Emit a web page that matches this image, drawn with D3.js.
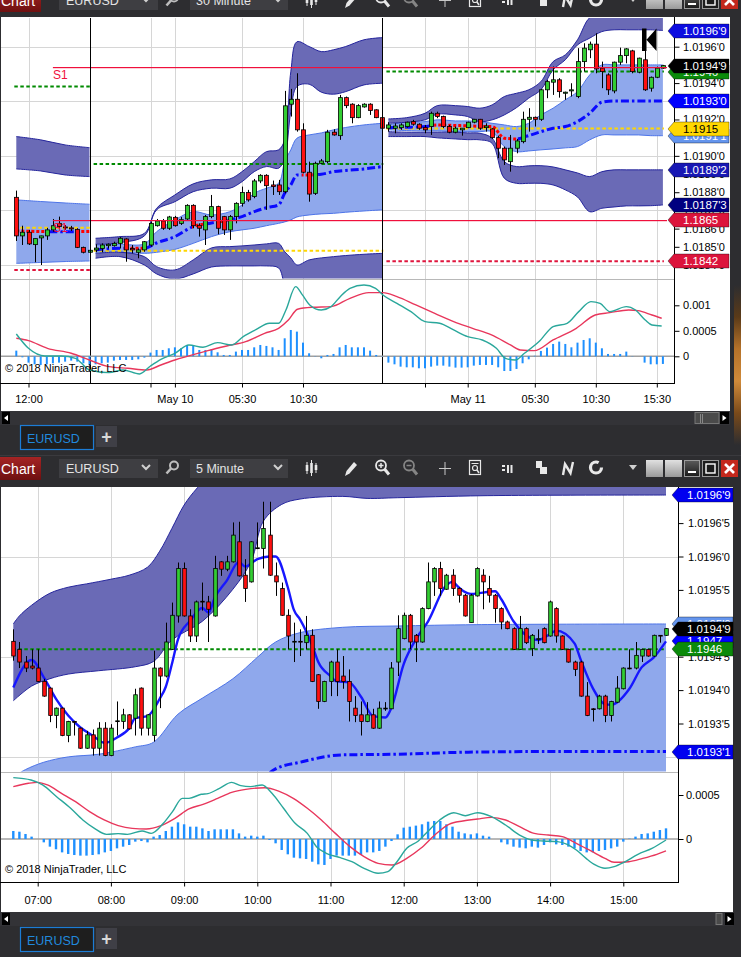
<!DOCTYPE html>
<html><head><meta charset="utf-8">
<script src="https://cdn.jsdelivr.net/npm/d3@7/dist/d3.min.js"></script>
<style>html,body{margin:0;padding:0;background:#2d2d30;overflow:hidden}svg{display:block}</style>
</head><body>
<svg id="c" width="741" height="957"></svg>
<script>
// ================= DATA : top chart (EURUSD 30 Minute) =================
// candles: [open, close, high, low]
const topCandles = [
[1.18772,1.18560,1.18809,1.18532],[1.18560,1.18580,1.18616,1.18510],[1.18580,1.18516,1.18593,1.18510],[1.18512,1.18545,1.18545,1.18415],
[1.18549,1.18560,1.18561,1.18400],[1.18560,1.18593,1.18604,1.18538],[1.18593,1.18616,1.18653,1.18583],[1.18629,1.18611,1.18666,1.18602],
[1.18609,1.18604,1.18620,1.18593],[1.18604,1.18598,1.18615,1.18587],[1.18596,1.18497,1.18602,1.18493],[1.18497,1.18470,1.18501,1.18464],
[1.18470,1.18481,1.18484,1.18466],[1.18483,1.18493,1.18514,1.18470],[1.18491,1.18510,1.18519,1.18470],[1.18506,1.18514,1.18519,1.18491],
[1.18506,1.18519,1.18528,1.18501],[1.18519,1.18547,1.18553,1.18491],[1.18543,1.18483,1.18547,1.18418],[1.18491,1.18483,1.18510,1.18464],
[1.18470,1.18483,1.18491,1.18437],[1.18483,1.18528,1.18532,1.18473],[1.18510,1.18629,1.18638,1.18501],[1.18616,1.18642,1.18653,1.18611],
[1.18642,1.18602,1.18653,1.18593],[1.18602,1.18664,1.18670,1.18593],[1.18662,1.18616,1.18670,1.18611],[1.18629,1.18649,1.18664,1.18620],
[1.18653,1.18728,1.18734,1.18648],[1.18728,1.18616,1.18734,1.18602],[1.18618,1.18602,1.18629,1.18556],[1.18593,1.18666,1.18675,1.18510],
[1.18666,1.18721,1.18785,1.18657],[1.18721,1.18602,1.18726,1.18569],[1.18666,1.18593,1.18670,1.18565],[1.18593,1.18666,1.18675,1.18538],
[1.18666,1.18739,1.18745,1.18629],[1.18739,1.18798,1.18831,1.18721],[1.18798,1.18758,1.18813,1.18748],[1.18776,1.18862,1.18873,1.18767],
[1.18862,1.18893,1.18899,1.18850],[1.18893,1.18836,1.18899,1.18703],[1.18840,1.18831,1.18864,1.18785],[1.18840,1.18803,1.18868,1.18785],
[1.18803,1.19275,1.19357,1.18794],[1.19284,1.19311,1.19368,1.19216],[1.19311,1.19143,1.19454,1.19133],[1.19143,1.18910,1.19179,1.18904],
[1.18910,1.18790,1.18968,1.18748],[1.18794,1.18959,1.18968,1.18785],[1.18959,1.18972,1.18983,1.18954],[1.18968,1.19130,1.19143,1.18959],
[1.19130,1.19115,1.19146,1.19111],[1.19111,1.19320,1.19335,1.19088],[1.19320,1.19276,1.19326,1.19262],[1.19284,1.19210,1.19289,1.19179],
[1.19210,1.19276,1.19284,1.19207],[1.19269,1.19284,1.19289,1.19265],[1.19284,1.19249,1.19289,1.19225],[1.19253,1.19210,1.19256,1.19207],
[1.19210,1.19152,1.19216,1.19143],[1.19152,1.19170,1.19185,1.19133],[1.19152,1.19164,1.19179,1.19124],[1.19155,1.19170,1.19179,1.19143],
[1.19161,1.19185,1.19188,1.19155],[1.19188,1.19174,1.19198,1.19166],[1.19174,1.19152,1.19179,1.19143],[1.19155,1.19143,1.19170,1.19124],
[1.19161,1.19234,1.19243,1.19115],[1.19234,1.19216,1.19243,1.19207],[1.19216,1.19161,1.19221,1.19152],[1.19161,1.19130,1.19170,1.19124],
[1.19130,1.19152,1.19161,1.19124],[1.19143,1.19152,1.19152,1.19111],[1.19155,1.19185,1.19188,1.19152],[1.19185,1.19201,1.19203,1.19179],
[1.19201,1.19152,1.19203,1.19143],[1.19155,1.19164,1.19179,1.19133],[1.19148,1.19100,1.19152,1.19093],[1.19100,1.19042,1.19111,1.18987],
[1.19042,1.18978,1.19051,1.18950],[1.18968,1.19042,1.19115,1.18913],[1.19042,1.19082,1.19093,1.19014],[1.19078,1.19201,1.19243,1.19069],
[1.19201,1.19212,1.19262,1.19133],[1.19212,1.19201,1.19216,1.19161],[1.19201,1.19363,1.19368,1.19192],[1.19363,1.19408,1.19418,1.19317],
[1.19405,1.19418,1.19491,1.19335],[1.19418,1.19353,1.19427,1.19320],[1.19344,1.19350,1.19353,1.19308],[1.19357,1.19363,1.19399,1.19326],
[1.19326,1.19518,1.19592,1.19317],[1.19518,1.19592,1.19619,1.19463],[1.19583,1.19614,1.19628,1.19537],[1.19614,1.19478,1.19674,1.19454],
[1.19482,1.19463,1.19518,1.19372],[1.19445,1.19363,1.19454,1.19335],[1.19357,1.19515,1.19518,1.19344],[1.19515,1.19551,1.19595,1.19500],
[1.19551,1.19588,1.19592,1.19509],[1.19577,1.19463,1.19583,1.19454],[1.19460,1.19537,1.19540,1.19454],[1.19528,1.19363,1.19577,1.19357],
[1.19372,1.19432,1.19436,1.19353],[1.19432,1.19482,1.19491,1.19427],[1.19482,1.19496,1.19500,1.19478]
];
// channel bands, one sub-array per session (bar index knots)
const topBandIdx = [
 [0,4,8,12],
 [13,17,21,23,26,29,32,35,37,39,41,43,44,45,46,48,50,52,54,57,60],
 [61,64,67,69,72,74,76,78,80,82,84,86,88,90,92,94,96,98,100,102,104,106]
];
const topUpperTop = [
 [1.19106,1.19088,1.19060,1.19045],
 [1.18547,1.18556,1.18574,1.18712,1.18785,1.18846,1.18868,1.18873,1.18913,1.18968,1.19023,1.19033,1.19088,1.19462,1.19627,1.19601,1.19573,1.19583,1.19601,1.19638,1.19650],
 [1.19203,1.19210,1.19234,1.19276,1.19276,1.19271,1.19262,1.19280,1.19326,1.19344,1.19363,1.19408,1.19518,1.19555,1.19638,1.19759,1.19775,1.19775,1.19775,1.19775,1.19775,1.19775]
];
const topUpperBot = [
 [1.18928,1.18917,1.18895,1.18886],
 [1.18514,1.18523,1.18560,1.18703,1.18748,1.18803,1.18822,1.18822,1.18858,1.18913,1.18941,1.18932,1.18989,1.19243,1.19381,1.19394,1.19350,1.19339,1.19353,1.19390,1.19399],
 [1.19179,1.19185,1.19198,1.19229,1.19225,1.19216,1.19188,1.19198,1.19225,1.19265,1.19317,1.19363,1.19473,1.19528,1.19610,1.19647,1.19683,1.19693,1.19693,1.19693,1.19693,1.19689]
];
const topLightTop = [
 [1.18758,1.18749,1.18741,1.18734],
 [1.18510,1.18514,1.18516,1.18583,1.18648,1.18693,1.18675,1.18693,1.18730,1.18794,1.18822,1.18849,1.18968,1.19033,1.19097,1.19115,1.19126,1.19143,1.19156,1.19170,1.19179],
 [1.19170,1.19185,1.19188,1.19198,1.19192,1.19192,1.19188,1.19179,1.19170,1.19161,1.19179,1.19225,1.19262,1.19308,1.19353,1.19445,1.19500,1.19500,1.19500,1.19500,1.19500,1.19500]
];
const topLightBot = [
 [1.18409,1.18414,1.18419,1.18422],
 [1.18470,1.18472,1.18464,1.18470,1.18486,1.18519,1.18556,1.18583,1.18593,1.18602,1.18616,1.18629,1.18637,1.18648,1.18664,1.18675,1.18681,1.18684,1.18690,1.18697,1.18703],
 [1.19143,1.19139,1.19137,1.19137,1.19133,1.19133,1.19133,1.19133,1.19051,1.19023,1.19027,1.19033,1.19038,1.19044,1.19051,1.19088,1.19115,1.19115,1.19115,1.19115,1.19111,1.19111]
];
const topLowerTop = [
 [1.18300,1.18300,1.18300,1.18300],
 [1.18464,1.18470,1.18446,1.18391,1.18373,1.18428,1.18494,1.18501,1.18505,1.18510,1.18516,1.18519,1.18473,1.18439,1.18400,1.18428,1.18439,1.18446,1.18452,1.18459,1.18464],
 [1.19133,1.19130,1.19130,1.19130,1.19130,1.19126,1.19124,1.19097,1.18968,1.18941,1.18945,1.18946,1.18939,1.18923,1.18906,1.18886,1.18913,1.18923,1.18923,1.18923,1.18923,1.18923]
];
const topLowerBot = [
 [1.18250,1.18250,1.18250,1.18250],
 [1.18437,1.18446,1.18400,1.18351,1.18323,1.18351,1.18389,1.18395,1.18395,1.18395,1.18395,1.18384,1.18290,1.18235,1.18208,1.18208,1.18208,1.18208,1.18208,1.18208,1.18208],
 [1.19106,1.19106,1.19106,1.19099,1.19093,1.19089,1.19088,1.19069,1.18877,1.18849,1.18849,1.18849,1.18840,1.18813,1.18774,1.18693,1.18712,1.18719,1.18725,1.18725,1.18726,1.18730]
];
const topCenter = [
 [1.18587,1.18584,1.18583,1.18584],
 [1.18483,1.18492,1.18492,1.18521,1.18556,1.18611,1.18631,1.18648,1.18666,1.18693,1.18715,1.18730,1.18794,1.18840,1.18895,1.18895,1.18899,1.18913,1.18920,1.18928,1.18941],
 [1.19155,1.19157,1.19161,1.19170,1.19167,1.19165,1.19162,1.19161,1.19097,1.19093,1.19111,1.19133,1.19152,1.19161,1.19188,1.19234,1.19295,1.19302,1.19302,1.19302,1.19302,1.19302]
];
// bar-index ranges where the centre line is drawn falling (red)
const topRedRanges = [[-1,4.9],[9.6,12.6],[17.6,21.2],[28.8,30.6],[32.8,34.6],[46.8,48.6],[68.5,82.2]];
// daily pivot levels per session [startBar, endBar]
const topSessions = [[0,12],[13,60],[61,106]];
const topPivotGreen = [1.19381,1.18955,1.19463];
const topPivotYellow = [1.18605,1.18479,1.1915];
const topPivotRed = [1.18373,1.18150,1.1842];
const topS1Vals = [1.19491,1.1865];
const topS1Start = 6;
const topBreaks = [12,60];
// MACD (values in units of 0.0001)
const topMacd = [[0,4.38],[2,1.57],[4.7,0.07],[7.4,0.07],[9.7,-0.39],[12,-2.68],[15.2,-3.2],[17.5,-2.68],[20.2,-3.46],[22,-1.9],[23.7,-0.59],[26,0.59],[28.3,2.22],[30.6,1.76],[33,2.68],[35.3,2.22],[37.2,3.86],[39.2,5.16],[41.5,6.47],[43,6.47],[44.2,9.08],[45.8,13.66],[46.9,12.03],[48.1,10.07],[50,9.08],[51.6,9.74],[53.1,11.7],[54.7,13.33],[57,13.99],[58.9,13.33],[60.1,12.03],[62.4,10.39],[64.7,8.76],[67,6.8],[69.4,6.47],[71.7,5.16],[74,3.86],[76.4,3.2],[78.7,1.57],[80.2,-0.39],[81.8,-0.72],[83.3,0.59],[85.7,2.88],[88,5.82],[90.3,6.47],[92.2,8.76],[94.2,10.72],[95.7,10.39],[97.3,8.76],[100,9.74],[101.5,9.08],[103.1,7.12],[104.2,6.14],[105.8,5.95]];
const topSignal = [[0,3.53],[2,3.07],[5.1,1.57],[9,0.59],[12,-0.72],[15.2,-2.03],[18.3,-2.35],[21.4,-2.68],[23.7,-1.7],[26,-0.72],[28.3,0.07],[31.4,1.11],[34.5,2.03],[37.6,2.88],[40.7,4.51],[43,5.49],[44.6,7.12],[46.1,9.22],[48.5,9.61],[51.6,9.74],[54.7,11.37],[57.8,12.48],[60.1,12.48],[62.4,11.7],[65.5,10.07],[68.6,8.43],[71.7,6.8],[74.8,5.49],[77.9,4.18],[81,2.22],[82.6,1.24],[84.9,1.11],[88,3.2],[91.8,5.49],[94.9,8.1],[97.3,8.56],[100.4,9.08],[101.9,8.95],[104.2,8.1],[105.8,7.45]];
const topHist = [1.11,-0.2,-1.24,-1.57,-1.70,-1.57,-1.37,-1.24,-1.05,-0.85,-1.05,-1.37,-1.70,-1.57,-1.37,-1.24,-0.85,-0.72,-0.72,-0.72,-0.59,-0.26,0.72,1.24,1.24,1.57,1.76,1.57,2.22,2.03,1.24,1.24,1.37,0.78,0.26,0.26,0.92,1.24,1.24,1.76,2.22,2.03,1.76,1.24,3.53,5.16,4.84,2.68,0.59,0.05,-0.39,0.26,0.46,1.76,2.22,1.76,1.76,1.76,1.11,0.26,0.05,-1.24,-1.57,-2.03,-2.16,-2.16,-2.35,-2.35,-2.03,-1.83,-1.83,-2.03,-2.22,-2.22,-2.16,-1.83,-1.70,-1.70,-1.70,-2.16,-2.88,-2.88,-2.48,-1.37,-0.59,0.1,1.05,1.70,2.42,2.88,2.42,1.76,2.68,3.20,3.53,2.68,1.57,0.46,0.46,0.46,0.92,0.05,0,-1.24,-1.57,-1.57,-1.50];
// axes
const topGridVals = [1.1840,1.1870,1.1900,1.1930,1.1960];
const topTickVals = [1.1960,1.1950,1.1940,1.1930,1.1920,1.1910,1.1900,1.1890,1.1880,1.1870,1.1860,1.1850,1.1840];
const topTickText = ["1.0196'0","1.0195'0","1.0194'0","1.0193'0","1.0192'0","1.0191'0","1.0190'0","1.0189'0","1.0188'0","1.0187'0","1.0186'0","1.0185'0","1.0184'0"];
const topXTicks = [2,22,26,37,47,67,74,85,95,105];
const topXLabels = ["12:00","","May 10","05:30","10:30","","May 11","05:30","10:30","15:30"];
const topMacdTicks = [10,5,0];
const topMacdText = ["0.001","0.0005","0"];
// price markers on the right axis
const topMarkerVals = [1.19111,1.1915,1.19463,1.19496,1.19689,1.19302,1.18923,1.1873,1.1865,1.1842];
const topMarkerText = ["1.0191'1","1.1915","1.1946","1.0194'9","1.0196'9","1.0193'0","1.0189'2","1.0187'3","1.1865","1.1842"];

// ================= DATA : bottom chart (EURUSD 5 Minute) =================
const botCandles = [
[1.19473,1.19451,1.19491,1.19444],[1.19461,1.19442,1.19472,1.19433],[1.19442,1.19433,1.19451,1.19427],[1.19436,1.19433,1.19461,1.19431],
[1.19433,1.19413,1.19461,1.19412],[1.19413,1.19391,1.19417,1.19390],[1.19403,1.19362,1.19404,1.19352],[1.19362,1.19373,1.19374,1.19343],
[1.19373,1.19332,1.19374,1.19331],[1.19332,1.19353,1.19354,1.19322],[1.19353,1.19352,1.19354,1.19332],[1.19343,1.19313,1.19344,1.19312],
[1.19313,1.19333,1.19339,1.19312],[1.19333,1.19313,1.19341,1.19302],[1.19313,1.19343,1.19352,1.19302],[1.19343,1.19302,1.19352,1.19301],
[1.19302,1.19343,1.19349,1.19301],[1.19353,1.19354,1.19383,1.19332],[1.19353,1.19363,1.19372,1.19342],[1.19363,1.19342,1.19364,1.19341],
[1.19358,1.19393,1.19402,1.19332],[1.19403,1.19343,1.19404,1.19332],[1.19343,1.19363,1.19364,1.19332],[1.19332,1.19433,1.19459,1.19323],
[1.19433,1.19421,1.19434,1.19373],[1.19421,1.19472,1.19501,1.19419],[1.19461,1.19512,1.19531,1.19460],[1.19511,1.19582,1.19591,1.19501],
[1.19582,1.19511,1.19591,1.19510],[1.19511,1.19481,1.19521,1.19472],[1.19481,1.19532,1.19534,1.19472],[1.19533,1.19532,1.19561,1.19519],
[1.19532,1.19521,1.19541,1.19472],[1.19511,1.19582,1.19601,1.19510],[1.19592,1.19581,1.19593,1.19571],[1.19581,1.19592,1.19601,1.19578],
[1.19592,1.19632,1.19651,1.19591],[1.19622,1.19571,1.19652,1.19570],[1.19572,1.19552,1.19596,1.19532],[1.19562,1.19622,1.19623,1.19561],
[1.19612,1.19613,1.19651,1.19611],[1.19612,1.19642,1.19682,1.19582],[1.19632,1.19572,1.19682,1.19571],[1.19571,1.19562,1.19591,1.19541],
[1.19552,1.19512,1.19561,1.19511],[1.19512,1.19481,1.19521,1.19461],[1.19472,1.19473,1.19501,1.19442],[1.19473,1.19472,1.19491,1.19451],
[1.19471,1.19482,1.19511,1.19461],[1.19482,1.19413,1.19491,1.19412],[1.19423,1.19383,1.19424,1.19372],[1.19383,1.19413,1.19414,1.19382],
[1.19413,1.19442,1.19444,1.19391],[1.19442,1.19413,1.19461,1.19391],[1.19421,1.19413,1.19451,1.19402],[1.19413,1.19383,1.19431,1.19353],
[1.19373,1.19362,1.19391,1.19352],[1.19363,1.19353,1.19383,1.19332],[1.19353,1.19363,1.19382,1.19352],[1.19363,1.19343,1.19372,1.19342],
[1.19343,1.19373,1.19383,1.19342],[1.19372,1.19373,1.19382,1.19369],[1.19372,1.19433,1.19442,1.19372],[1.19442,1.19492,1.19512,1.19421],
[1.19477,1.19512,1.19516,1.19476],[1.19512,1.19472,1.19514,1.19461],[1.19482,1.19472,1.19484,1.19442],[1.19472,1.19522,1.19524,1.19471],
[1.19522,1.19562,1.19591,1.19521],[1.19562,1.19582,1.19584,1.19541],[1.19582,1.19552,1.19592,1.19541],[1.19551,1.19572,1.19574,1.19550],
[1.19572,1.19552,1.19581,1.19541],[1.19552,1.19542,1.19554,1.19531],[1.19542,1.19511,1.19544,1.19510],[1.19501,1.19542,1.19544,1.19501],
[1.19541,1.19582,1.19584,1.19540],[1.19572,1.19562,1.19581,1.19521],[1.19552,1.19542,1.19571,1.19531],[1.19542,1.19522,1.19544,1.19501],
[1.19522,1.19502,1.19524,1.19491],[1.19502,1.19492,1.19504,1.19491],[1.19492,1.19461,1.19494,1.19460],[1.19461,1.19492,1.19511,1.19460],
[1.19492,1.19471,1.19494,1.19469],[1.19462,1.19482,1.19484,1.19451],[1.19476,1.19477,1.19491,1.19469],[1.19492,1.19471,1.19494,1.19470],
[1.19481,1.19532,1.19534,1.19480],[1.19522,1.19481,1.19524,1.19471],[1.19481,1.19461,1.19482,1.19460],[1.19461,1.19442,1.19462,1.19441],
[1.19442,1.19431,1.19444,1.19421],[1.19442,1.19391,1.19444,1.19390],[1.19391,1.19362,1.19412,1.19361],[1.19372,1.19371,1.19373,1.19353],
[1.19372,1.19391,1.19393,1.19371],[1.19391,1.19362,1.19393,1.19352],[1.19362,1.19383,1.19384,1.19353],[1.19382,1.19403,1.19421,1.19381],
[1.19402,1.19433,1.19434,1.19401],[1.19433,1.19432,1.19461,1.19431],[1.19433,1.19452,1.19472,1.19431],[1.19451,1.19461,1.19462,1.19442],
[1.19461,1.19451,1.19462,1.19450],[1.19451,1.19482,1.19483,1.19450],[1.19482,1.19481,1.19482,1.19471],[1.19482,1.19492,1.19493,1.19481]
];
const botUpperTopIdx = [0,1,3,6,9,12,16,19,22,24,26,28,30,32,40,107];
const botUpperTop = [1.19499,1.19511,1.19527,1.19545,1.19554,1.19559,1.19566,1.19572,1.19584,1.19608,1.19642,1.19677,1.19701,1.19719,1.19731,1.19731];
const botUpperBotIdx = [0,3,6,9,14,20,23,26,31,36,39,41,44,47,54,58,63,77,107];
const botUpperBot = [1.19384,1.19406,1.19417,1.19424,1.19429,1.19435,1.19443,1.19475,1.19503,1.19551,1.19593,1.19653,1.19678,1.19686,1.19690,1.19687,1.19688,1.19691,1.19692];
const botLightTopIdx = [0,2,5,9,14,20,23,27,31,36,40,43,47,54,63,76,107];
const botLightTop = [1.19270,1.19281,1.19292,1.19300,1.19304,1.19315,1.19322,1.19364,1.19388,1.19417,1.19449,1.19472,1.19486,1.19494,1.19496,1.19498,1.19499];
const botLightBotIdx = [0,107];
const botLightBot = [1.1924,1.1924];
const botCenter = [[40,1.19260],[43,1.19282],[47,1.19292],[54,1.19303],[63,1.19304],[74,1.19307],[87,1.19308],[107,1.19308]];
const botEma = [[0,1.19404],[3,1.19445],[5,1.19419],[7,1.19387],[9,1.19362],[11,1.19344],[13,1.19332],[15,1.19321],[17,1.19329],[19,1.19343],[20,1.19358],[22,1.19361],[24,1.19387],[25,1.19405],[26,1.19439],[27,1.19476],[29,1.19504],[31,1.19523],[32,1.19516],[33,1.19538],[35,1.19564],[37,1.19592],[38,1.19585],[40,1.19596],[42,1.19600],[43,1.19600],[45,1.19554],[46,1.19520],[47,1.19506],[49,1.19467],[50,1.19442],[52,1.19421],[53,1.19413],[55,1.19412],[57,1.19390],[59,1.19361],[61,1.19359],[62,1.19374],[64,1.19439],[66,1.19476],[68,1.19503],[71,1.19557],[72,1.19562],[73,1.19554],[74,1.19547],[75,1.19544],[79,1.19548],[80,1.19536],[82,1.19503],[85,1.19477],[86,1.19475],[88,1.19484],[89,1.19489],[92,1.19470],[93,1.19446],[95,1.19403],[97,1.19379],[98,1.19378],[101,1.19402],[103,1.19434],[105,1.19449],[107,1.19473]];
const botPivotGreen = 1.19461;
const botSpan = [0,107];
const botMacd = [[0,6.97],[2.9,6.7],[4.8,6.14],[7.1,4.81],[9.4,3.49],[11.4,2.16],[13.3,1.21],[15.3,0.53],[17.2,0.61],[18.7,0.53],[21.1,0.91],[22.6,0.64],[24.6,1.78],[26.1,3.11],[27.7,4.62],[28.8,4.62],[30.8,5.08],[31.9,5.15],[33.8,5.76],[35.8,6.44],[37.3,6.06],[38.9,5.95],[40.8,6.14],[42.4,5.19],[44.3,3.49],[46.2,1.78],[48.2,0.64],[49.7,-0.87],[51.3,-1.63],[53.6,-2.12],[55.5,-2.58],[57.5,-3.33],[59.8,-3.9],[61.4,-3.71],[62.9,-2.58],[64.5,-1.06],[66.4,-0.23],[67.9,0.83],[69.9,2.16],[72.2,2.99],[74.1,2.65],[76.1,2.99],[78.4,2.54],[80.7,1.59],[83,0.45],[85,-0.11],[86.9,-0.23],[89.2,-0.3],[90.8,-0.61],[92.3,-1.25],[93.9,-2.2],[95.4,-2.95],[97,-3.33],[98.5,-3.14],[100.1,-2.65],[102.4,-1.74],[104.7,-1.06],[107,-0.11]];
const botSignal = [[0,5.95],[2.5,6.33],[4,6.44],[5.6,6.14],[7.9,5.19],[10.2,4.24],[12.5,3.11],[14.9,2.16],[17.2,1.52],[19.5,1.21],[21.8,1.14],[24.2,1.52],[26.5,2.35],[28.8,3.41],[31.1,3.94],[33.5,4.62],[35.8,5.3],[38.1,5.64],[41.2,5.83],[43.5,5.45],[45.9,4.62],[48.2,3.49],[50.5,2.16],[52.8,0.64],[55.2,-0.87],[57.5,-2.01],[59.8,-2.77],[62.1,-2.95],[64.5,-2.2],[66.8,-1.06],[69.1,0.45],[71.4,1.67],[73.7,2.05],[76.1,2.27],[78.4,2.46],[80.7,2.16],[83,1.4],[85.4,0.64],[87.7,0.45],[90,0.27],[92.3,-0.49],[94.7,-1.36],[97,-2.2],[98.5,-2.65],[100.9,-2.58],[103.2,-2.2],[105.5,-1.74],[107,-1.36]];
const botHist = [0.91,0.83,0.57,0.27,0,-0.38,-0.87,-1.17,-1.52,-1.70,-1.82,-1.89,-1.89,-1.82,-1.74,-1.52,-1.36,-1.06,-0.87,-0.68,-0.30,-0.23,-0.38,0.27,0.45,0.91,1.40,1.89,1.67,1.40,1.40,1.21,0.91,1.10,1.10,1.10,1.10,0.64,0.27,0.38,0.27,0.38,-0.11,-0.49,-1.25,-1.74,-2.12,-2.20,-2.27,-2.58,-2.88,-2.95,-2.27,-1.89,-1.89,-1.89,-1.89,-1.82,-1.52,-1.52,-1.36,-0.87,-0.23,0.53,1.29,1.40,1.52,1.67,1.97,2.05,2.05,1.67,1.40,0.83,0.64,0.53,0.64,0.38,0.27,0,-0.38,-0.61,-0.87,-0.98,-1.06,-0.87,-0.98,-0.68,-0.38,-0.61,-0.68,-0.87,-1.06,-1.36,-1.52,-1.52,-1.36,-1.25,-1.06,-0.87,-0.30,0.04,0.27,0.57,0.64,0.83,1.02,1.21];
const botGridVals = [1.1930,1.1945,1.1960];
const botTickVals = [1.1965,1.1960,1.1955,1.1950,1.1945,1.1940,1.1935];
const botTickText = ["1.0196'5","1.0196'0","1.0195'5","1.0195'0","1.0194'5","1.0194'0","1.0193'5"];
const botXTicks = [4,16,28,40,52,64,76,88,100];
const botXLabels = ["07:00","08:00","09:00","10:00","11:00","12:00","13:00","14:00","15:00"];
const botMacdTicks = [5,0];
const botMacdText = ["0.0005","0"];
const botMarkerVals = [1.19499,1.19473,1.19492,1.19461,1.19692,1.19308];
const botMarkerText = ["1.0195'0","1.1947","1.0194'9","1.1946","1.0196'9","1.0193'1"];

// ================= STYLE =================
const W = 741, H = 957;
const FONT = "'Liberation Sans', Arial, Helvetica, sans-serif";
const COL = {
  up:'#32cd32', down:'#ff1010', grid:'#d6d6d6',
  outer:'#6a6ab6', outerEdge:'#25259c', light:'#8fa8ec', lightEdge:'#4d74e8',
  center:'#0a0aff', centerDown:'#ff0000', ema:'#1717ff',
  green:'#008a00', yellow:'#ffd700', crimson:'#e0143c', s1:'#f0103c',
  macd:'#2aa79b', signal:'#e8375c', hist:'#1e90ff', zero:'#a0a0a0'
};
const topMarkerFill = ['#6495ed','#ffd700','#0a8a0a','#000000','#0c0ce0','#0000ff','#1818b4','#000080','#dc143c','#dc143c'];
const topMarkerInk  = ['#fff','#000','#fff','#fff','#fff','#fff','#fff','#fff','#fff','#fff'];
const botMarkerFill = ['#6495ed','#0000ff','#000000','#0a8a0a','#0000f0','#0000f0'];
const botMarkerInk  = ['#fff','#fff','#fff','#fff','#fff','#fff'];

const svg = d3.select('#c');
const defs = svg.append('defs');
let cid = 0;
function clipOf(rects){
  const id = 'clip' + (cid++);
  const cp = defs.append('clipPath').attr('id', id);
  rects.forEach(r => cp.append('rect').attr('x', r[0]).attr('y', r[1]).attr('width', Math.max(0, r[2])).attr('height', r[3]));
  return 'url(#' + id + ')';
}
function grad(id, stops, vertical){
  const g = defs.append('linearGradient').attr('id', id).attr('x1',0).attr('y1',0).attr('x2', vertical?0:1).attr('y2', vertical?1:0);
  stops.forEach((c,i)=>g.append('stop').attr('offset', (i/(stops.length-1))).attr('stop-color', c));
}
grad('gChart',['#a52424','#6e1010'],true);
grad('gGray',['#e0e0e0','#9a9a9a'],true);
grad('gDark',['#5a5a5a','#1a1a1a'],true);
grad('gOrange',['#2d2d30','#5a3a18','#b5722a','#d08a3a','#7a4a1a','#2d2d30'],true);

function text(g,x,y,s,o){ o=o||{};
  return g.append('text').attr('x',x).attr('y',y).text(s)
    .attr('font-family',o.family||FONT).attr('font-size',o.size||11)
    .attr('fill',o.fill||'#000').attr('text-anchor',o.anchor||'start')
    .attr('font-weight',o.weight||'normal');
}
function line(g,x1,y1,x2,y2,stroke,w){ return g.append('line').attr('x1',x1).attr('y1',y1).attr('x2',x2).attr('y2',y2).attr('stroke',stroke).attr('stroke-width',w||1); }

// ---------- toolbar ----------
function chevron(g,cx,cy){ g.append('path').attr('d',`M${cx-4},${cy-2} L${cx},${cy+2} L${cx+4},${cy-2}`).attr('fill','none').attr('stroke','#d0d0d0').attr('stroke-width',2); }
function drawToolbar(y0, interval){
  const g = svg.append('g').attr('transform','translate(0,'+y0+')');
  const IC = '#e8e8e8';
  g.append('rect').attr('width',W).attr('height',23).attr('fill','#2d2d30');
  g.append('rect').attr('x',0).attr('y',0).attr('width',41).attr('height',23).attr('fill','url(#gChart)');
  text(g,1,17,'Chart',{size:14,fill:'#fff'});
  g.append('rect').attr('x',59).attr('y',2).attr('width',99).attr('height',19).attr('fill','#3e3e42');
  text(g,66,16,'EURUSD',{size:12.5,fill:'#e4e4e4'});
  chevron(g,146,10);
  g.append('circle').attr('cx',174).attr('cy',8.5).attr('r',4).attr('fill','none').attr('stroke','#bdbdbd').attr('stroke-width',2);
  line(g,171,11.5,166.5,16.5,'#bdbdbd',2.6);
  g.append('rect').attr('x',190).attr('y',2).attr('width',98).attr('height',19).attr('fill','#3e3e42');
  text(g,196,16,interval,{size:12.5,fill:'#e4e4e4'});
  chevron(g,278,10);
  [[307,5,17,8,14],[311.5,3,19,6,16],[316,6,16,8,13]].forEach(c=>{ line(g,c[0],c[1],c[0],c[2],IC,1); g.append('rect').attr('x',c[0]-1.3).attr('y',c[3]).attr('width',2.6).attr('height',c[4]-c[3]).attr('fill',IC); });
  g.append('path').attr('d','M345,19 L346.5,14 L354,5 L357,8 L349.5,16.5 Z').attr('fill',IC);
  g.append('circle').attr('cx',381).attr('cy',8.5).attr('r',5).attr('fill','none').attr('stroke',IC).attr('stroke-width',1.8);
  line(g,384.5,12,389,17.5,IC,3); line(g,378.5,8.5,383.5,8.5,IC,1.5); line(g,381,6,381,11,IC,1.5);
  g.append('circle').attr('cx',409).attr('cy',8.5).attr('r',5).attr('fill','none').attr('stroke','#858585').attr('stroke-width',1.8);
  line(g,412.5,12,417,17.5,'#858585',3); line(g,406.5,8.5,411.5,8.5,'#858585',1.5);
  line(g,439,11.5,451,11.5,'#c8c8c8',1); line(g,445,5,445,18,'#c8c8c8',1);
  g.append('rect').attr('x',469.5).attr('y',3.5).attr('width',11).attr('height',14).attr('fill','none').attr('stroke',IC).attr('stroke-width',1.2);
  line(g,471.5,6.5,478.5,6.5,IC,1); g.append('circle').attr('cx',475).attr('cy',11).attr('r',2.5).attr('fill','none').attr('stroke',IC).attr('stroke-width',1.2); line(g,477,13,479,16,IC,1.5);
  g.append('rect').attr('x',502).attr('y',8).attr('width',3).attr('height',2).attr('fill',IC);
  g.append('rect').attr('x',502).attr('y',12).attr('width',3).attr('height',2).attr('fill',IC);
  g.append('rect').attr('x',507).attr('y',8).attr('width',2).attr('height',8).attr('fill',IC);
  g.append('rect').attr('x',510.5).attr('y',8).attr('width',2).attr('height',8).attr('fill',IC);
  g.append('rect').attr('x',536).attr('y',4).attr('width',6).attr('height',7).attr('fill',IC);
  g.append('rect').attr('x',540).attr('y',10).attr('width',7).attr('height',7).attr('fill',IC);
  g.append('path').attr('d','M563,18 L565,7 L570.5,16 L573,5').attr('fill','none').attr('stroke',IC).attr('stroke-width',2.4);
  g.append('circle').attr('cx',596).attr('cy',10.5).attr('r',5.5).attr('fill','none').attr('stroke',IC).attr('stroke-width',3.2).attr('stroke-dasharray','28,6');
  g.append('path').attr('d','M629,8 L637,8 L633,13 Z').attr('fill','#d0d0d0');
  g.append('rect').attr('x',646).attr('y',3).attr('width',17).attr('height',17).attr('fill','url(#gGray)');
  g.append('rect').attr('x',665).attr('y',3).attr('width',17).attr('height',17).attr('fill','url(#gGray)');
  g.append('rect').attr('x',684.5).attr('y',3.5).attr('width',15).attr('height',16).attr('fill','url(#gDark)').attr('stroke','#9a9a9a');
  line(g,688,15,696,15,'#fff',2);
  g.append('rect').attr('x',702.5).attr('y',3.5).attr('width',16).attr('height',16).attr('fill','#1c1c1c').attr('stroke','#9a9a9a');
  g.append('rect').attr('x',706).attr('y',7).attr('width',9).attr('height',9).attr('fill','none').attr('stroke','#fff').attr('stroke-width',1.4);
  g.append('rect').attr('x',721).attr('y',3).attr('width',17).attr('height',17).attr('fill','#c4281c');
  line(g,725,7,734,16,'#fff',2.6); line(g,734,7,725,16,'#fff',2.6);
}
function drawTabs(yScroll, thumbX, thumbW, rArrowX, yTab, whiteRight){
  svg.append('rect').attr('x',0).attr('y',yScroll).attr('width',whiteRight).attr('height',14).attr('fill','#333337');
  svg.append('rect').attr('x',2).attr('y',yScroll+1).attr('width',8).attr('height',12).attr('fill','#000');
  svg.append('path').attr('d',`M4,${yScroll+7} L8,${yScroll+4} L8,${yScroll+10} Z`).attr('fill','#fff');
  svg.append('rect').attr('x',thumbX).attr('y',yScroll+1.5).attr('width',thumbW).attr('height',11).attr('fill','#4a4a4a').attr('stroke','#777');
  if (thumbW > 10){ line(svg,thumbX+5.5,yScroll+3,thumbX+5.5,yScroll+12,'#888',1); line(svg,thumbX+7.5,yScroll+3,thumbX+7.5,yScroll+12,'#888',1); }
  svg.append('rect').attr('x',rArrowX).attr('y',yScroll+1).attr('width',9).attr('height',12).attr('fill','#000');
  svg.append('path').attr('d',`M${rArrowX+6.5},${yScroll+7} L${rArrowX+2.5},${yScroll+4} L${rArrowX+2.5},${yScroll+10} Z`).attr('fill','#fff');
  svg.append('rect').attr('x',20.5).attr('y',yTab+0.5).attr('width',73).attr('height',24).attr('fill','#1e1e1e').attr('stroke','#1c7cd5').attr('stroke-width',1.2);
  text(svg,27,yTab+18,'EURUSD',{size:12.5,fill:'#2189dc'});
  svg.append('rect').attr('x',96).attr('y',yTab+1).attr('width',21).attr('height',21).attr('fill','#3f3f46');
  text(svg,106.5,yTab+17.5,'+',{size:18,fill:'#d8d8d8',anchor:'middle',weight:'bold'});
}

// ---------- chart helpers ----------
function drawBand(g, x, y, idxHi, hi, idxLo, lo, fill, edge, sw){
  const ph = idxHi.map((d,k)=>[x(d), y(hi[k])]);
  const pl = idxLo.map((d,k)=>[x(d), y(lo[k])]);
  const lg = d3.line().curve(d3.curveCatmullRom.alpha(0.5));
  const a = lg(ph), b = lg(pl.slice().reverse());
  g.append('path').attr('d', a + 'L' + b.slice(1) + 'Z').attr('fill', fill);
  g.append('path').attr('d', a).attr('fill','none').attr('stroke',edge).attr('stroke-width',sw);
  g.append('path').attr('d', lg(pl)).attr('fill','none').attr('stroke',edge).attr('stroke-width',sw);
}
function drawPairs(g, x, y, pts, color, w, dash){
  g.append('path').attr('d', d3.line().x(d=>x(d[0])).y(d=>y(d[1])).curve(d3.curveMonotoneX)(pts))
    .attr('fill','none').attr('stroke',color).attr('stroke-width',w).attr('stroke-dasharray',dash||null).attr('stroke-linejoin','round');
}
function drawCandles(g, x, y, data, bw){
  const c = g.selectAll(null).data(data).join('g');
  c.append('line').attr('x1',(d,i)=>Math.round(x(i))+0.5).attr('x2',(d,i)=>Math.round(x(i))+0.5)
    .attr('y1',d=>y(d[2])).attr('y2',d=>y(d[3])).attr('stroke','#000').attr('stroke-width',1);
  c.append('rect').attr('x',(d,i)=>Math.round(x(i))+0.5-bw/2).attr('y',d=>y(Math.max(d[0],d[1])))
    .attr('width',bw).attr('height',d=>Math.max(0.8, Math.abs(y(d[0])-y(d[1]))))
    .attr('fill',d=>d[1]>=d[0]?COL.up:COL.down).attr('stroke','#000').attr('stroke-width',0.8);
}
function drawMacd(g, x, m, hist, macd, sig, xr, bw){
  line(g,1,m(0),xr,m(0),COL.zero,1.5);
  g.selectAll(null).data(hist).join('rect').attr('x',(d,i)=>x(i)-bw/2).attr('y',d=>Math.min(m(0),m(d)))
    .attr('width',bw).attr('height',d=>Math.abs(m(d)-m(0))).attr('fill',COL.hist);
  drawPairs(g, x, m, sig, COL.signal, 1.4);
  drawPairs(g, x, m, macd, COL.macd, 1.4);
}
function drawMarkers(g, y, vals, texts, fills, inks, xl, xr){
  vals.forEach((v,k)=>{
    const yy = Math.round(y(v));
    g.append('path').attr('d',`M${xl},${yy} L${xl+6},${yy-7} L${xr},${yy-7} L${xr},${yy+7} L${xl+6},${yy+7} Z`)
      .attr('fill',fills[k]).attr('stroke','rgba(0,0,0,0.45)').attr('stroke-width',0.8);
    text(g, xl+15, yy+4, texts[k], {size:11.5, fill:inks[k]});
  });
}
function styleAxis(a){ a.attr('font-family',FONT).attr('font-size',11); a.select('.domain').remove(); a.selectAll('line').attr('stroke','#000'); a.selectAll('text').attr('fill','#000'); }

// ================= TOP PANEL =================
drawToolbar(-11, '30 Minute');
svg.append('rect').attr('x',734).attr('y',285).attr('width',7).attr('height',160).attr('fill','url(#gOrange)');
svg.append('rect').attr('x',1).attr('y',17).attr('width',729).attr('height',394).attr('fill','#fff');
const xT = d3.scaleLinear().domain([0,106]).range([16.3,662.9]);
const yT = d3.scaleLinear().domain([1.1840,1.1960]).range([265,46.7]);
const mT = d3.scaleLinear().domain([0,10]).range([356.3,305.3]);
const gTop = svg.append('g');
gTop.selectAll(null).data(topGridVals).join('line').attr('x1',1).attr('x2',674).attr('y1',d=>Math.round(yT(d))+0.5).attr('y2',d=>Math.round(yT(d))+0.5).attr('stroke',COL.grid);
gTop.selectAll(null).data(topXTicks).join('line').attr('x1',d=>Math.round(xT(d))+0.5).attr('x2',d=>Math.round(xT(d))+0.5).attr('y1',18).attr('y2',383).attr('stroke',COL.grid);
line(gTop,1,279.5,674,279.5,'#b8b8b8',1);
const pTop = gTop.append('g').attr('clip-path', clipOf([[1,18,667,260.5]]));
topBandIdx.forEach((idx,s)=>{
  drawBand(pTop,xT,yT,idx,topLightTop[s],idx,topLightBot[s],COL.light,COL.lightEdge,1);
  drawBand(pTop,xT,yT,idx,topUpperTop[s],idx,topUpperBot[s],COL.outer,COL.outerEdge,1);
  drawBand(pTop,xT,yT,idx,topLowerTop[s],idx,topLowerBot[s],COL.outer,COL.outerEdge,1);
});
topSessions.forEach((s,k)=>{
  [[topPivotGreen,COL.green],[topPivotYellow,COL.yellow],[topPivotRed,COL.crimson]].forEach(p=>{
    const yy = yT(p[0][k]);
    pTop.append('line').attr('x1',xT(s[0])-2).attr('x2',xT(s[1])+1).attr('y1',yy).attr('y2',yy)
      .attr('stroke',p[1]).attr('stroke-width',2).attr('stroke-dasharray','3.5,2.5');
  });
});
// S1 horizontal lines (solid crimson) with labels
const gS1 = gTop.append('g');
gS1.selectAll('rect').data(topS1Vals).join('rect')
  .attr('x',d=>xT(topS1Start)).attr('width',d=>667-xT(topS1Start))
  .attr('y',d=>Math.round(yT(d))).attr('height',1.2).attr('fill',COL.s1);
gS1.selectAll('text').data(topS1Vals).join('text')
  .attr('x',xT(topS1Start)).attr('y',d=>Math.round(yT(d))+12).text('S1')
  .attr('font-family',FONT).attr('font-size',12).attr('fill',COL.s1);
{
  const redRects = topRedRanges.map(r=>[xT(r[0]),18,xT(r[1])-xT(r[0]),261]);
  const blueRects = []; let px = 0;
  topRedRanges.forEach(r=>{ blueRects.push([px,18,xT(r[0])-px,261]); px = xT(r[1]); });
  blueRects.push([px,18,740-px,261]);
  const gBlue = pTop.append('g').attr('clip-path',clipOf(blueRects));
  const gRed = pTop.append('g').attr('clip-path',clipOf(redRects));
  topBandIdx.forEach((idx,s)=>{
    const pts = idx.map((d,k)=>[d, topCenter[s][k]]);
    drawPairs(gBlue,xT,yT,pts,COL.center,3,'8,3,2.5,3');
    drawPairs(gRed,xT,yT,pts,COL.centerDown,3,'3,2');
  });
}
topBreaks.forEach(b=>{ const xx = Math.round(xT(b))+0.5; line(gTop,xx,18,xx,383,'#000',1); });
drawCandles(pTop,xT,yT,topCandles,4);
gTop.append('path').attr('d','M642,28.5 h4.5 v22.5 h-4.5 Z M646.5,39.75 L656.5,28.5 L656.5,51 Z').attr('fill','#000');
const mTopG = gTop.append('g').attr('clip-path', clipOf([[1,280,673.5,103]]));
drawMacd(mTopG,xT,mT,topHist,topMacd,topSignal,674,2);
text(gTop,5,372,'\u00A9 2018 NinjaTrader, LLC',{size:11});
line(gTop,0,383.5,675,383.5,'#000',1);
line(gTop,674.5,17,674.5,383.5,'#000',1);
styleAxis(gTop.append('g').attr('transform','translate(0,383.5)')
  .call(d3.axisBottom(xT).tickValues(topXTicks).tickFormat((d,k)=>topXLabels[k]).tickSize(4).tickPadding(8).tickSizeOuter(0)));
styleAxis(gTop.append('g').attr('transform','translate(674.5,0)')
  .call(d3.axisRight(yT).tickValues(topTickVals).tickFormat((d,k)=>topTickText[k]).tickSize(5).tickPadding(3.5).tickSizeOuter(0)));
styleAxis(gTop.append('g').attr('transform','translate(674.5,0)')
  .call(d3.axisRight(mT).tickValues(topMacdTicks).tickFormat((d,k)=>topMacdText[k]).tickSize(5).tickPadding(3.5).tickSizeOuter(0)));
drawMarkers(gTop,yT,topMarkerVals,topMarkerText,topMarkerFill,topMarkerInk,668,729);
drawTabs(411, 695, 24, 720, 425, 730);
line(svg,0,455.5,W,455.5,'#3a3a3e',1);

// ================= BOTTOM PANEL =================
drawToolbar(457, '5 Minute');
svg.append('rect').attr('x',1).attr('y',487).attr('width',732).attr('height',425).attr('fill','#fff');
const xB = d3.scaleLinear().domain([0,107]).range([13.3,666]);
const yB = d3.scaleLinear().domain([1.1930,1.1960]).range([756.9,556.5]);
const mB = d3.scaleLinear().domain([0,5]).range([839,795]);
const gBot = svg.append('g');
gBot.selectAll(null).data(botGridVals).join('line').attr('x1',1).attr('x2',678).attr('y1',d=>Math.round(yB(d))+0.5).attr('y2',d=>Math.round(yB(d))+0.5).attr('stroke',COL.grid);
gBot.selectAll(null).data(botXTicks).join('line').attr('x1',d=>Math.round(xB(d))+0.5).attr('x2',d=>Math.round(xB(d))+0.5).attr('y1',487).attr('y2',882).attr('stroke',COL.grid);
line(gBot,1,772.5,678,772.5,'#b8b8b8',1);
const pBot = gBot.append('g').attr('clip-path', clipOf([[1,487,670,284.5]]));
drawBand(pBot,xB,yB,botLightTopIdx,botLightTop,botLightBotIdx,botLightBot,COL.light,COL.lightEdge,1);
drawBand(pBot,xB,yB,botUpperTopIdx,botUpperTop,botUpperBotIdx,botUpperBot,COL.outer,COL.outerEdge,1);
drawPairs(pBot,xB,yB,botCenter,COL.center,3,'8,3,2.5,3');
{ const yy = yB(botPivotGreen);
  pBot.append('line').attr('x1',xB(botSpan[0])-1).attr('x2',xB(botSpan[1])-2).attr('y1',yy).attr('y2',yy)
    .attr('stroke',COL.green).attr('stroke-width',2).attr('stroke-dasharray','3.5,2.5'); }
drawPairs(pBot,xB,yB,botEma,COL.ema,2.4);
drawCandles(pBot,xB,yB,botCandles,3.6);
const mBotG = gBot.append('g').attr('clip-path', clipOf([[1,773,677.5,109.5]]));
drawMacd(mBotG,xB,mB,botHist,botMacd,botSignal,678,2.4);
text(gBot,5,873,'\u00A9 2018 NinjaTrader, LLC',{size:11});
line(gBot,0,882.5,679,882.5,'#000',1);
line(gBot,678.5,487,678.5,882.5,'#000',1);
styleAxis(gBot.append('g').attr('transform','translate(0,882.5)')
  .call(d3.axisBottom(xB).tickValues(botXTicks).tickFormat((d,k)=>botXLabels[k]).tickSize(4).tickPadding(10).tickSizeOuter(0)));
styleAxis(gBot.append('g').attr('transform','translate(678.5,0)')
  .call(d3.axisRight(yB).tickValues(botTickVals).tickFormat((d,k)=>botTickText[k]).tickSize(5).tickPadding(4.5).tickSizeOuter(0)));
styleAxis(gBot.append('g').attr('transform','translate(678.5,0)')
  .call(d3.axisRight(mB).tickValues(botMacdTicks).tickFormat((d,k)=>botMacdText[k]).tickSize(5).tickPadding(2.5).tickSizeOuter(0)));
drawMarkers(gBot,yB,botMarkerVals,botMarkerText,botMarkerFill,botMarkerInk,672,733);
drawTabs(912, 716, 6, 725, 927, 733);
</script>
</body></html>
